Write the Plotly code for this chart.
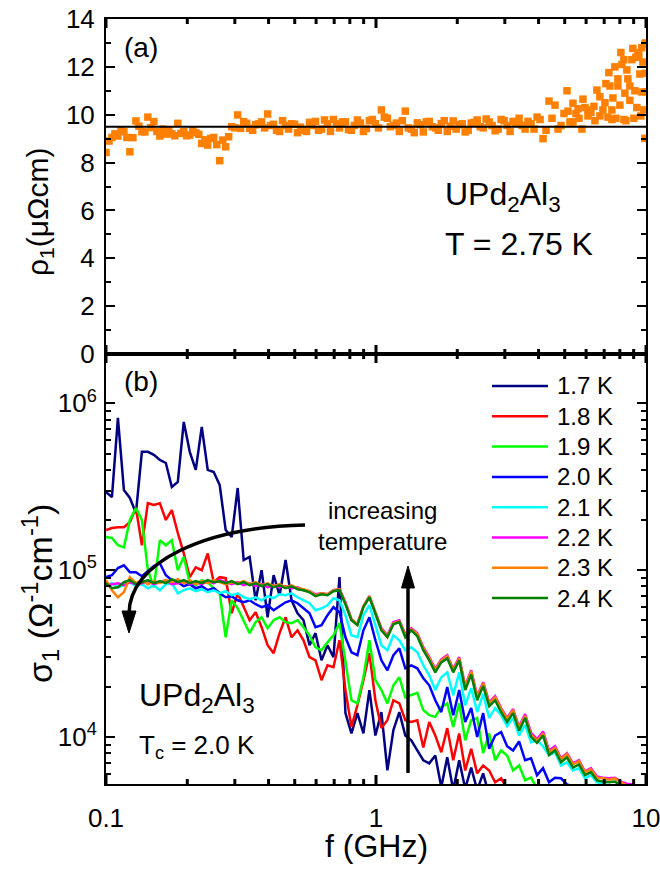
import math
import plotly.graph_objects as go

# ---------------- data ----------------
FREQ = [0.1000, 0.1052, 0.1107, 0.1165, 0.1226, 0.1291, 0.1358, 0.1429, 0.1504, 0.1583,
        0.1666, 0.1753, 0.1845, 0.1941, 0.2043, 0.2150, 0.2263, 0.2381, 0.2506, 0.2637,
        0.2775, 0.2921, 0.3074, 0.3235, 0.3404, 0.3583, 0.3770, 0.3968, 0.4176, 0.4394,
        0.4625, 0.4867, 0.5122, 0.5390, 0.5673, 0.5970, 0.6283, 0.6612, 0.6958, 0.7323,
        0.7706, 0.8110, 0.8535, 0.8982, 0.9453, 0.9948, 1.047, 1.102, 1.160, 1.220,
        1.284, 1.351, 1.422, 1.497, 1.575, 1.658, 1.745, 1.836, 1.932, 2.033,
        2.140, 2.252, 2.370, 2.494, 2.625, 2.762, 2.907, 3.059, 3.219, 3.388,
        3.566, 3.752, 3.949, 4.156, 4.373, 4.602, 4.844, 5.097, 5.364, 5.645,
        5.941, 6.252, 6.580, 6.924, 7.287, 7.669, 8.070, 8.493, 8.938, 9.406,
        9.899]

N = None
SIG_17 = [2.94e5, 2.74e5, 8.18e5, 3.02e5, 2.71e5, 2.20e5, 5.12e5, 5.12e5, 4.91e5, 4.58e5,
          4.39e5, 3.15e5, 3.38e5, 7.74e5, 5.12e5, 3.99e5, 7.23e5, 3.99e5, 3.88e5, 3.24e5,
          1.74e5, 1.58e5, 3.11e5, 1.15e5, 1.20e5, 6.60e4, 1.0e5, 5.22e4, 9.33e4, 7.08e4,
          1.15e5, 6.60e4, 5.52e4, 5.01e4, 3.55e4, 4.19e4, 2.88e4, 3.55e4, 3.01e4, 9.08e4,
          1.39e4, 1.05e4, 1.39e4, 1.05e4, 1.91e4, 1.02e4, 1.41e4, 6.3e3, 1.10e4, 1.41e4,
          1.02e4, 9.55e3, 8.3e3, 7.25e3, 6.95e3, 7.75e3, 5.0e3, 7.55e3, 4.8e3, 7.25e3,
          4.9e3, 6.55e3, 4.8e3, 6.05e3, 4.45e3, 4.2e3, N, N, N, N,
          N, N, N, N, N, N, N, N, N, N,
          N, N, N, N, N, N, N, N, N, N,
          N]
SIG_18 = [1.74e5, 1.79e5, 1.81e5, 1.81e5, 1.94e5, 2.36e5, 1.41e5, 2.52e5, 2.46e5, 2.52e5,
          2.0e5, 2.29e5, 1.67e5, 1.26e5, 9.08e4, 1.04e5, 1.0e5, 1.26e5, 8.47e4, 9.08e4,
          8.95e4, 5.52e4, 7.27e4, 6.0e4, 5.01e4, 5.60e4, 4.55e4, 3.55e4, 3.18e4, 4.19e4,
          5.22e4, 3.96e4, 4.36e4, 3.80e4, 3.01e4, 2.88e4, 2.19e4, 2.69e4, 2.62e4, 3.80e4,
          1.91e4, 1.15e4, 1.55e4, 2.19e4, 3.18e4, 1.66e4, 1.13e4, 1.26e4, 1.66e4, 1.59e4,
          1.26e4, 1.23e4, 1.26e4, 8.65e3, 1.23e4, 1.02e4, 8.1e3, 1.13e4, 7.25e3, 1.05e4,
          6.3e3, 8.5e3, 6.05e3, 6.75e3, 6.3e3, 5.35e3, 5.65e3, 4.9e3, 4.8e3, 4.2e3,
          N, N, N, N, N, N, N, N, N, N,
          N, N, N, N, N, N, N, N, N, N,
          N]
SIG_19 = [1.58e5, 1.56e5, 1.41e5, 1.37e5, 2.0e5, 2.36e5, 2.0e5, 1.0e5, 7.90e4, 1.51e5,
          1.41e5, 1.51e5, 1.0e5, 1.20e5, 8.35e4, 8.12e4, 8.71e4, 8.47e4, 7.79e4, 7.27e4,
          3.96e4, 6.60e4, 5.91e4, 5.01e4, 4.19e4, 4.88e4, 5.22e4, 4.49e4, 5.01e4, 5.22e4,
          4.88e4, 4.81e4, 5.01e4, 4.55e4, 4.07e4, 3.45e4, 3.31e4, 3.69e4, 4.07e4, 4.81e4,
          2.88e4, 1.66e4, 1.59e4, 2.28e4, 3.80e4, 2.19e4, 1.91e4, 1.59e4, 2.04e4, 2.28e4,
          1.73e4, 1.78e4, 1.84e4, 1.45e4, 1.35e4, 1.32e4, 1.51e4, 1.59e4, 1.15e4, 1.59e4,
          9.55e3, 1.26e4, 1.30e4, 8.0e3, 1.05e4, 7.25e3, 8.3e3, 7.75e3, 6.3e3, 6.75e3,
          5.5e3, 5.7e3, 4.9e3, 5.1e3, 4.65e3, 4.2e3, N, N, N, N,
          N, N, N, N, N, N, N, N, N, N,
          N]
SIG_20 = [9.08e4, 9.33e4, 1.03e5, 1.07e5, 9.73e4, 9.73e4, 9.20e4, 9.86e4, 1.06e5, 1.10e5,
          9.33e4, 8.71e4, 8.47e4, 8.01e4, 8.24e4, 7.79e4, 8.01e4, 7.58e4, 7.79e4, 7.27e4,
          6.88e4, 6.98e4, 6.60e4, 6.42e4, 6.60e4, 6.25e4, 6.0e4, 6.16e4, 5.75e4, 6.08e4,
          6.42e4, 6.60e4, 6.34e4, 5.91e4, 5.52e4, 4.55e4, 4.68e4, 5.37e4, 6.0e4, 5.60e4,
          3.96e4, 3.22e4, 3.09e4, 4.36e4, 5.22e4, 3.80e4, 2.88e4, 2.51e4, 3.09e4, 3.40e4,
          2.58e4, 2.69e4, 2.58e4, 2.25e4, 2.04e4, 1.66e4, 1.41e4, 1.99e4, 1.35e4, 1.91e4,
          1.23e4, 1.49e4, 1.00e4, 1.39e4, 8.5e3, 1.02e4, 1.07e4, 8.8e3, 8.3e3, 9.4e3,
          7.25e3, 7.45e3, 5.9e3, 6.5e3, 5.35e3, 5.7e3, 5.65e3, 5.2e3, 5.05e3, 4.9e3,
          4.65e3, 4.45e3, 4.2e3, N, N, N, N, N, N, N,
          N]
SIG_21 = [8.12e4, 8.35e4, 7.90e4, 8.12e4, 8.47e4, 8.01e4, 8.24e4, 7.79e4, 8.12e4, 7.58e4,
          8.24e4, 8.35e4, 7.27e4, 7.58e4, 7.79e4, 7.48e4, 7.69e4, 7.37e4, 7.58e4, 7.27e4,
          7.48e4, 7.08e4, 7.27e4, 6.88e4, 6.70e4, 6.88e4, 6.60e4, 6.98e4, 6.79e4, 7.17e4,
          7.08e4, 7.27e4, 6.88e4, 6.60e4, 6.34e4, 5.75e4, 5.91e4, 6.16e4, 6.79e4, 6.60e4,
          5.37e4, 4.07e4, 3.96e4, 5.37e4, 6.16e4, 4.68e4, 3.55e4, 3.31e4, 4.07e4, 3.80e4,
          3.31e4, 3.45e4, 3.22e4, 2.69e4, 2.34e4, 1.91e4, 2.28e4, 2.44e4, 1.78e4, 2.44e4,
          1.55e4, 1.96e4, 1.41e4, 1.81e4, 1.30e4, 1.49e4, 1.35e4, 1.16e4, 1.30e4, 1.02e4,
          1.18e4, 9.3e3, 9.55e3, 8.8e3, 7.75e3, 8.1e3, 6.75e3, 7.05e3, 6.3e3, 6.5e3,
          5.65e3, 5.9e3, 5.35e3, 5.25e3, 5.1e3, 5.05e3, 4.8e3, 4.6e3, 4.4e3, 4.2e3,
          3.9e3]
SIG_22 = [8.12e4, 8.24e4, 8.35e4, 8.12e4, 8.47e4, 8.24e4, 8.35e4, 8.59e4, 8.24e4, 8.47e4,
          8.71e4, 8.24e4, 8.35e4, 8.59e4, 8.24e4, 8.47e4, 8.24e4, 8.59e4, 8.35e4, 8.71e4,
          8.47e4, 8.24e4, 8.47e4, 8.12e4, 8.35e4, 8.01e4, 8.24e4, 7.90e4, 8.12e4, 7.90e4,
          8.01e4, 7.79e4, 7.90e4, 7.58e4, 7.48e4, 7.17e4, 7.27e4, 7.17e4, 7.58e4, 7.69e4,
          6.42e4, 5.08e4, 4.74e4, 6.08e4, 6.98e4, 5.60e4, 4.49e4, 4.07e4, 4.88e4, 5.01e4,
          4.13e4, 4.49e4, 4.19e4, 3.45e4, 3.01e4, 2.55e4, 2.92e4, 3.09e4, 2.55e4, 3.01e4,
          2.02e4, 2.51e4, 1.76e4, 2.13e4, 1.62e4, 1.76e4, 1.49e4, 1.30e4, 1.47e4, 1.15e4,
          1.37e4, 1.06e4, 9.7e3, 1.08e4, 8.3e3, 8.8e3, 7.45e3, 8.0e3, 6.95e3, 7.25e3,
          6.2e3, 6.5e3, 5.8e3, 5.7e3, 5.65e3, 5.7e3, 5.4e3, 5.25e3, 5.2e3, 5.0e3,
          4.65e3]
SIG_23 = [8.71e4, 7.58e4, 6.88e4, 7.37e4, 9.08e4, 8.35e4, 8.71e4, 8.24e4, 8.59e4, 8.35e4,
          8.71e4, 8.47e4, 8.83e4, 8.35e4, 8.71e4, 8.24e4, 8.59e4, 8.35e4, 8.71e4, 8.47e4,
          8.24e4, 8.47e4, 8.35e4, 8.59e4, 8.24e4, 8.47e4, 8.12e4, 8.35e4, 8.01e4, 8.24e4,
          7.90e4, 8.12e4, 7.79e4, 7.69e4, 7.48e4, 7.08e4, 7.27e4, 7.17e4, 7.58e4, 7.69e4,
          6.34e4, 5.08e4, 4.74e4, 6.08e4, 6.98e4, 5.60e4, 4.43e4, 4.02e4, 4.81e4, 4.94e4,
          4.07e4, 4.43e4, 4.13e4, 3.40e4, 2.96e4, 2.51e4, 2.88e4, 3.05e4, 2.51e4, 2.96e4,
          1.99e4, 2.48e4, 1.73e4, 2.10e4, 1.59e4, 1.73e4, 1.47e4, 1.28e4, 1.45e4, 1.13e4,
          1.34e4, 1.03e4, 9.5e3, 1.05e4, 8.1e3, 8.6e3, 7.35e3, 7.9e3, 6.85e3, 7.15e3,
          6.15e3, 6.4e3, 5.7e3, 5.65e3, 5.55e3, 5.65e3, 5.35e3, 5.1e3, 5.0e3, 4.8e3,
          4.45e3]
SIG_24 = [8.35e4, 7.79e4, 7.90e4, 8.47e4, 8.71e4, 8.24e4, 8.47e4, 8.71e4, 8.35e4, 8.59e4,
          8.35e4, 8.83e4, 8.47e4, 8.71e4, 8.35e4, 8.59e4, 8.35e4, 8.71e4, 8.47e4, 8.59e4,
          8.35e4, 8.59e4, 8.24e4, 8.47e4, 8.12e4, 8.35e4, 8.01e4, 8.24e4, 7.90e4, 8.12e4,
          7.79e4, 8.01e4, 7.69e4, 7.58e4, 7.37e4, 6.98e4, 7.17e4, 7.08e4, 7.48e4, 7.58e4,
          6.25e4, 5.01e4, 4.68e4, 6.0e4, 6.88e4, 5.52e4, 4.36e4, 3.96e4, 4.74e4, 4.88e4,
          3.96e4, 4.36e4, 4.02e4, 3.31e4, 2.88e4, 2.44e4, 2.80e4, 2.96e4, 2.44e4, 2.88e4,
          1.91e4, 2.37e4, 1.66e4, 2.02e4, 1.53e4, 1.66e4, 1.41e4, 1.23e4, 1.39e4, 1.09e4,
          1.30e4, 1.00e4, 9.2e3, 1.02e4, 7.8e3, 8.3e3, 7.05e3, 7.55e3, 6.55e3, 6.85e3,
          5.9e3, 6.15e3, 5.5e3, 5.4e3, 5.35e3, 5.4e3, 5.1e3, 4.9e3, 4.65e3, 4.45e3,
          4.2e3]

TEMPS = ["1.7 K", "1.8 K", "1.9 K", "2.0 K", "2.1 K", "2.2 K", "2.3 K", "2.4 K"]
SIGMAS = [SIG_17, SIG_18, SIG_19, SIG_20, SIG_21, SIG_22, SIG_23, SIG_24]
COLORS = ["#000080", "#FF0000", "#00FF00", "#0000FF", "#00FFFF", "#FF00FF", "#FF8000", "#008000"]

# panel (a): rho_1 at T = 2.75 K
RHO = [8.42, 9.05, 9.11, 9.29, 8.45, 9.74, 9.29, 9.90, 9.71, 9.11,
       9.19, 9.20, 9.64, 9.29, 9.15, 9.25, 8.80, 8.73, 9.05, 8.08,
       8.66, 9.50, 9.99, 9.71, 9.43, 9.58, 9.70, 10.03, 9.60, 9.30,
       9.55, 9.62, 9.25, 9.35, 9.68, 9.72, 9.40, 9.62, 9.80, 9.45,
       9.70, 9.35, 9.78, 9.30, 9.75, 9.62, 10.20, 9.85, 9.55, 9.30,
       10.15, 9.40, 9.66, 9.28, 9.72, 9.45, 9.63, 9.30, 9.74, 9.58,
       9.28, 9.65, 9.78, 9.45, 9.70, 9.33, 9.80, 9.55, 9.72, 9.85,
       9.40, 9.62, 9.90, 9.00, 10.57, 10.40, 9.55, 11.00, 10.48, 9.85,
       10.30, 10.10, 11.03, 10.20, 11.76, 12.00, 12.60, 11.87, 12.77, 12.49,
       12.95]
FREQ_MID = [0.1026, 0.1079, 0.1136, 0.1195, 0.1258, 0.1324, 0.1393, 0.1466, 0.1543, 0.1624,
            0.1709, 0.1798, 0.1893, 0.1991, 0.2096, 0.2206, 0.2322, 0.2443, 0.2571, 0.2705,
            0.2847, 0.2997, 0.3154, 0.3319, 0.3492, 0.3676, 0.3868, 0.4071, 0.4284, 0.4508,
            0.4745, 0.4993, 0.5255, 0.5530, 0.5820, 0.6125, 0.6446, 0.6783, 0.7138, 0.7513,
            0.7906, 0.8320, 0.8756, 0.9215, 0.9698, 1.021, 1.074, 1.130, 1.190, 1.252,
            1.317, 1.386, 1.459, 1.536, 1.616, 1.701, 1.790, 1.884, 1.982, 2.086,
            2.195, 2.310, 2.431, 2.559, 2.693, 2.834, 2.982, 3.138, 3.303, 3.476,
            3.658, 3.849, 4.051, 4.264, 4.486, 4.722, 4.969, 5.229, 5.503, 5.791,
            6.094, 6.414, 6.750, 7.103, 7.476, 7.867, 8.279, 8.713, 9.169, 9.649]
RHO_MID = [8.90, 9.20, 9.35, 9.05, 9.04, 9.52, 9.28, 9.46, 9.30, 9.40,
           9.35, 9.12, 9.22, 9.12, 9.33, 9.18, 8.95, 9.01, 8.75, 8.94,
           9.08, 9.45, 9.43, 9.64, 9.35, 9.62, 9.45, 9.55, 9.35, 9.75,
           9.40, 9.60, 9.48, 9.30, 9.55, 9.35, 9.78, 9.30, 9.62, 9.70,
           9.38, 9.55, 9.65, 9.42, 9.80, 9.45, 9.90, 9.50, 9.65, 9.75,
           9.45, 9.25, 9.58, 9.70, 9.50, 9.35, 9.75, 9.52, 9.40, 9.62,
           9.35, 9.68, 9.50, 9.82, 9.55, 9.40, 9.75, 9.30, 9.68, 9.55,
           9.72, 9.40, 9.80, 9.35, 9.85, 9.40, 10.05, 9.70, 10.05, 9.40,
           10.20, 10.35, 10.75, 11.30, 10.20, 11.50, 12.30, 11.20, 12.40, 12.80]
FREQ_HF = [6.470, 6.751, 7.045, 7.228, 7.351, 7.541, 7.737, 7.869, 8.004, 8.142,
           8.352, 8.424, 8.568, 8.715, 8.865, 9.017, 9.094, 9.250, 9.329, 9.490,
           9.571, 9.653, 9.736, 9.818, 9.902, 9.902, 9.987, 9.987, 5.842, 6.096,
           5.599, 5.366, 5.142, 7.477, 8.281]
RHO_HF = [9.75, 9.95, 10.50, 9.90, 11.20, 10.70, 9.85, 11.20, 10.40, 12.10,
          10.90, 9.75, 11.50, 10.60, 12.30, 9.85, 11.00, 10.30, 12.60, 11.70,
          9.95, 10.95, 12.20, 10.20, 11.73, 9.01, 13.00, 10.96, 10.65, 9.95,
          10.25, 9.70, 10.15, 9.80, 9.80]
RHO_FIT_F = [0.1, 10.0]
RHO_FIT = [9.5, 9.5]

X_MAJOR = [0.1, 1, 10]
X_LABELS = ["0.1", "1", "10"]

for s in SIGMAS:
    assert len(s) == len(FREQ), len(s)
assert len(RHO) == len(FREQ)
assert len(RHO_MID) == len(FREQ_MID)
assert len(RHO_HF) == len(FREQ_HF)

# ---------------- geometry helpers (pixel -> paper) ----------------
W, H = 660, 869
L, R, T, B = 106, 14, 19, 85
PW, PH = W - L - R, H - T - B
SPLIT = 354
BOT = H - B
dom = (BOT - SPLIT) / PH
XLOG0, XLOG1 = -1.0, 1.0
H_LOW = BOT - SPLIT   # pixel height of panel (b)
H_TOP = SPLIT - T     # pixel height of panel (a)


def xp(px):
    return (px - L) / PW


def yp(py):
    return (BOT - py) / PH


FONT = "Liberation Sans, Arial, sans-serif"

fig = go.Figure()
for name, vals, col in zip(TEMPS, SIGMAS, COLORS):
    fig.add_trace(go.Scatter(x=FREQ, y=vals, mode="lines", name=name,
                             line=dict(color=col, width=2.5),
                             xaxis="x", yaxis="y", showlegend=False))

fig.add_trace(go.Scatter(x=FREQ + FREQ_MID + FREQ_HF, y=RHO + RHO_MID + RHO_HF,
                         mode="markers", name="rho1",
                         marker=dict(symbol="square", size=7.5, color="#FF8000", line=dict(width=0)),
                         xaxis="x2", yaxis="y2", showlegend=False))
fig.add_trace(go.Scatter(x=RHO_FIT_F, y=RHO_FIT, mode="lines", name="mean",
                         line=dict(color="black", width=2),
                         xaxis="x2", yaxis="y2", showlegend=False))

minor_ylog = [m * 10 ** e for e in (3, 4, 5, 6) for m in range(2, 10)]
minor_x = [m * 10 ** e for e in (-1, 0) for m in range(2, 10)]


# x tick marks as line segments on hidden overlay axes (pixel units), both panels
def tick_segments(height):
    xs, ys = [], []
    for v in X_MAJOR + minor_x:
        ln = 9 if v in X_MAJOR else 5
        xs += [v, v, None, v, v, None]
        ys += [0, ln, None, height, height - ln, None]
    return xs, ys


tx, ty = tick_segments(H_LOW)
fig.add_trace(go.Scatter(x=tx, y=ty, mode="lines", line=dict(color="black", width=3),
                         xaxis="x", yaxis="y3", hoverinfo="skip", showlegend=False))
tx2, ty2 = tick_segments(H_TOP)
fig.add_trace(go.Scatter(x=tx2, y=ty2, mode="lines", line=dict(color="black", width=3),
                         xaxis="x2", yaxis="y4", hoverinfo="skip", showlegend=False))

axis_common = dict(showline=True, linecolor="black", linewidth=2,
                   showgrid=False, zeroline=False, automargin=False,
                   tickfont=dict(family=FONT, size=26, color="black"))
tick_common = dict(ticks="inside", ticklen=9, tickwidth=2, tickcolor="black")
minor_common = dict(ticks="inside", ticklen=5, tickwidth=2, tickcolor="black", showgrid=False)

fig.update_layout(
    width=W, height=H,
    margin=dict(l=L, r=R, t=T, b=B, pad=0),
    paper_bgcolor="white", plot_bgcolor="white",
    font=dict(family=FONT, size=26, color="black"),
    showlegend=False,
    xaxis=dict(type="log", range=[XLOG0, XLOG1], anchor="y", mirror=True,
               ticks="", ticklabeloverflow="allow", ticklabelstandoff=10,
               tickvals=X_MAJOR, ticktext=X_LABELS, **axis_common),
    yaxis=dict(type="log", range=[3.718, 6.296], domain=[0, dom], anchor="x", mirror="ticks",
               tickvals=[1e4, 1e5, 1e6],
               ticktext=["10<sup>4</sup>", "10<sup>5</sup>", "10<sup>6</sup>"], ticklabelstandoff=2,
               minor=dict(tickvals=minor_ylog, **minor_common), **tick_common, **axis_common),
    xaxis2=dict(type="log", range=[XLOG0, XLOG1], anchor="y2", mirror=True,
                ticks="", showticklabels=False, **axis_common),
    yaxis2=dict(range=[0, 14], domain=[dom, 1], anchor="x2", mirror="ticks",
                tickvals=list(range(0, 15, 2)), ticklabelstandoff=4,
                minor=dict(tickvals=list(range(1, 14, 2)), **minor_common), **tick_common, **axis_common),
    yaxis3=dict(overlaying="y", anchor="x", range=[0, H_LOW], visible=False,
                showgrid=False, zeroline=False),
    yaxis4=dict(overlaying="y2", anchor="x2", range=[0, H_TOP], visible=False,
                showgrid=False, zeroline=False),
)

ann = []


def text(s, px, py, size, xanchor="center", yanchor="middle", angle=0):
    ann.append(dict(text=s, x=xp(px), y=yp(py), xref="paper", yref="paper",
                    showarrow=False, xanchor=xanchor, yanchor=yanchor, textangle=angle,
                    font=dict(family=FONT, size=size, color="black")))


text("(a)", 141, 48, 28)
text("UPd<sub>2</sub>Al<sub>3</sub>", 443, 197, 32, xanchor="left")
text("T = 2.75 K", 443, 244, 32, xanchor="left")
text("(b)", 141, 381, 28)
text("increasing<br>temperature", 382, 526, 24)
text("UPd<sub>2</sub>Al<sub>3</sub>", 137, 697, 32, xanchor="left")
text("T<sub>c</sub> = 2.0 K", 137, 746, 26, xanchor="left")
text("f (GHz)", 376, 846, 32)
text("ρ<sub>1</sub>(μΩcm)", 39, 212, 30, angle=-90)
text("σ<sub>1</sub> (Ω<sup>-1</sup>cm<sup>-1</sup>)", 40, 594, 34, angle=-90)

shapes = []

# manual legend
for i, (name, col) in enumerate(zip(TEMPS, COLORS)):
    ly = 386 + 30.3 * i
    shapes.append(dict(type="line", xref="paper", yref="paper",
                       x0=xp(492), x1=xp(548), y0=yp(ly), y1=yp(ly),
                       line=dict(color=col, width=2.5)))
    text(name, 555, ly, 24, xanchor="left")


def pathstr(cmds):
    out = []
    for c in cmds:
        if isinstance(c, str):
            out.append(c)
        else:
            out.append(f"{xp(c[0]):.5f},{yp(c[1]):.5f}")
    return " ".join(out)


# curved arrow
shapes.append(dict(type="path", xref="paper", yref="paper",
                   path=pathstr(["M", (305, 525), "C", (205, 527), (129, 562), (129, 614)]),
                   line=dict(color="black", width=3.5)))
shapes.append(dict(type="path", xref="paper", yref="paper",
                   path=pathstr(["M", (122, 611), "L", (136, 611), "L", (129, 633), "Z"]),
                   fillcolor="black", line=dict(color="black", width=1)))
# vertical arrow
shapes.append(dict(type="line", xref="paper", yref="paper",
                   x0=xp(408), x1=xp(408), y0=yp(773), y1=yp(585),
                   line=dict(color="black", width=3.5)))
shapes.append(dict(type="path", xref="paper", yref="paper",
                   path=pathstr(["M", (401.5, 588), "L", (414.5, 588), "L", (408, 566), "Z"]),
                   fillcolor="black", line=dict(color="black", width=1)))

fig.update_layout(annotations=ann, shapes=shapes)
fig.write_html("out.html")
